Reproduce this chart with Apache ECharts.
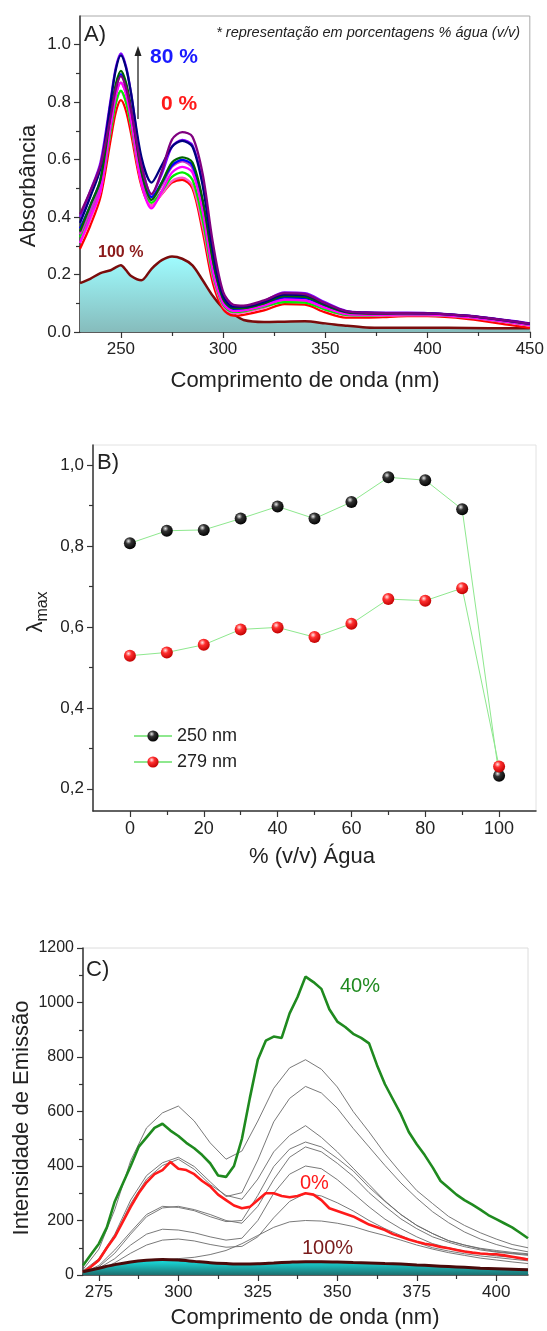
<!DOCTYPE html>
<html><head><meta charset="utf-8">
<script src="https://cdn.jsdelivr.net/npm/echarts@6/dist/echarts.min.js"></script>
<style>html,body{margin:0;padding:0;background:#fff}#c{width:547px;height:1331px}</style>
</head><body><div id="c"></div>
<script>
// ---------- Panel A : absorption spectra ----------
const wlA = [230,235,240,245,247.5,250,252.5,255,260,265,270,275,280,285,290,295,300,305,310,320,330,340,350,360,370,380,390,400,420,440,450];
const abs0  = [0.29,0.37,0.47,0.67,0.765,0.807,0.77,0.69,0.51,0.44,0.48,0.52,0.53,0.50,0.35,0.17,0.08,0.057,0.06,0.075,0.097,0.095,0.068,0.05,0.05,0.052,0.055,0.055,0.045,0.025,0.014];
const abs10 = [0.31,0.39,0.49,0.70,0.795,0.838,0.80,0.715,0.52,0.44,0.48,0.525,0.537,0.51,0.37,0.19,0.09,0.065,0.068,0.085,0.108,0.106,0.078,0.058,0.056,0.057,0.058,0.058,0.05,0.032,0.022];
const abs20 = [0.33,0.41,0.50,0.70,0.796,0.840,0.80,0.72,0.53,0.45,0.49,0.54,0.556,0.53,0.39,0.20,0.095,0.07,0.072,0.088,0.104,0.102,0.078,0.06,0.058,0.059,0.06,0.06,0.052,0.034,0.024];
const abs30 = [0.34,0.42,0.51,0.72,0.823,0.868,0.83,0.74,0.54,0.46,0.51,0.575,0.594,0.57,0.43,0.22,0.10,0.075,0.077,0.093,0.113,0.11,0.085,0.064,0.061,0.061,0.062,0.062,0.053,0.035,0.025];
const abs40 = [0.36,0.44,0.53,0.75,0.85,0.898,0.857,0.77,0.56,0.47,0.52,0.58,0.599,0.58,0.45,0.24,0.11,0.08,0.08,0.096,0.12,0.118,0.09,0.067,0.063,0.063,0.064,0.064,0.055,0.037,0.027];
const abs50 = [0.31,0.40,0.49,0.72,0.823,0.868,0.83,0.74,0.52,0.43,0.49,0.555,0.575,0.555,0.42,0.21,0.10,0.073,0.075,0.092,0.113,0.11,0.084,0.063,0.06,0.06,0.061,0.061,0.052,0.034,0.024];
const abs60 = [0.35,0.44,0.53,0.76,0.862,0.909,0.868,0.78,0.56,0.46,0.52,0.59,0.608,0.59,0.46,0.25,0.115,0.083,0.083,0.1,0.125,0.122,0.093,0.069,0.064,0.064,0.065,0.065,0.056,0.038,0.028];
const abs70 = [0.40,0.49,0.59,0.81,0.92,0.970,0.925,0.83,0.59,0.48,0.55,0.645,0.669,0.65,0.52,0.29,0.13,0.09,0.09,0.108,0.138,0.135,0.103,0.074,0.068,0.067,0.067,0.066,0.057,0.04,0.03];
const abs80 = [0.38,0.47,0.57,0.80,0.913,0.963,0.92,0.83,0.61,0.52,0.58,0.645,0.665,0.645,0.51,0.28,0.125,0.088,0.088,0.105,0.13,0.128,0.098,0.072,0.067,0.066,0.066,0.065,0.056,0.039,0.029];
const abs90 = [0.41,0.49,0.58,0.75,0.845,0.891,0.85,0.77,0.58,0.48,0.56,0.67,0.696,0.68,0.55,0.31,0.14,0.095,0.092,0.11,0.135,0.132,0.1,0.073,0.067,0.066,0.066,0.065,0.056,0.039,0.029];
const abs100= [0.17,0.185,0.205,0.215,0.225,0.232,0.215,0.195,0.18,0.22,0.25,0.263,0.255,0.232,0.18,0.125,0.083,0.062,0.042,0.035,0.036,0.037,0.03,0.022,0.016,0.015,0.015,0.015,0.014,0.013,0.013];
const absColors = ['#ff0000','#ff55cc','#00ee00','#cc33cc','#0000ff','#ff00ff','#006400','#8000ff','#000080','#800080'];
const absSets = [abs0,abs10,abs20,abs30,abs40,abs50,abs60,abs70,abs80,abs90];
const ticksAx = [250,300,350,400,450];
const ticksAy = [0,0.2,0.4,0.6,0.8,1.0];

// ---------- Panel B : lambda max ----------
const pctB = [0,10,20,30,40,50,60,70,80,90,100];
const lam250 = [0.807,0.838,0.840,0.868,0.898,0.868,0.909,0.970,0.963,0.891,0.232];
const lam279 = [0.529,0.537,0.556,0.594,0.599,0.575,0.608,0.669,0.665,0.696,0.255];
const ticksBx = [0,20,40,60,80,100];
const ticksBy = [0.2,0.4,0.6,0.8,1.0];

// ---------- Panel C : emission ----------
const wlC5 = [270,275,280,285,290,295,300,305,310,315,320,325,330,335,340,345,350,355,360,365,370,375,380,385,390,395,400,405,410];
const wlC25 = [270,272.5,275,277.5,280,282.5,285,287.5,290,292.5,295,297.5,300,302.5,305,307.5,310,312.5,315,317.5,320,322.5,325,327.5,330,332.5,335,337.5,340,342.5,345,347.5,350,352.5,355,357.5,360,362.5,365,367.5,370,372.5,375,377.5,380,382.5,385,387.5,390,392.5,395,397.5,400,402.5,405,407.5,410];
const emi40 = [35,75,115,175,270,335,400,470,505,540,555,530,510,485,465,440,410,365,360,400,500,650,790,860,875,870,960,1020,1095,1075,1050,975,930,910,885,870,850,770,700,645,590,525,480,440,395,345,320,295,275,258,240,220,205,190,175,155,135];
const emi0 = [10,30,55,100,140,195,250,300,340,370,385,415,390,385,370,345,325,295,275,255,245,250,275,300,300,290,285,290,300,295,275,245,235,225,215,200,185,175,165,150,140,130,122,115,110,103,98,92,86,82,79,77,76,72,67,62,57];
const emi100 = [12,25,38,48,54,57,55,50,45,42,40,41,44,47,49,49,48,46,44,42,40,37,34,31,28,25,23,21,19];
const gray1 = [20,95,240,420,540,595,620,565,485,425,455,565,685,760,790,755,690,600,525,445,375,310,262,215,182,155,132,112,100];
const gray2 = [15,60,150,275,365,412,432,398,342,288,302,422,562,648,692,668,612,538,470,402,338,282,232,192,158,132,112,96,85];
const gray3 = [10,50,140,262,352,402,425,388,332,292,278,352,452,512,548,505,452,392,332,272,222,182,152,126,110,96,86,80,75];
const gray4 = [8,35,92,158,222,252,248,236,214,196,200,292,398,462,488,470,428,382,322,270,222,182,152,126,110,98,90,83,78];
const gray5 = [6,30,80,150,214,246,252,240,222,200,190,252,350,432,470,452,410,362,302,252,206,170,140,120,104,92,84,78,72];
const gray6 = [5,25,60,110,150,168,165,155,140,128,135,200,300,370,400,390,350,300,250,205,170,140,115,100,88,78,70,65,60];
const gray7 = [4,18,45,80,110,128,132,125,112,102,105,140,210,270,300,290,265,235,200,170,145,120,100,88,78,70,64,58,52];
const gray8 = [2,8,20,35,48,55,60,65,75,90,115,145,175,195,200,198,190,178,160,145,128,110,95,82,72,62,55,48,42];
const grays = [gray1,gray2,gray3,gray4,gray5,gray6,gray7,gray8];
const ticksCx = [275,300,325,350,375,400];
const ticksCy = [0,200,400,600,800,1000,1200];

const FF = '"Liberation Sans", Arial, sans-serif';
const pairs = (xs, ys) => xs.map((x,i)=>[x, ys[i]]);
const AX = '#333';

function mainAxis(grid, min, max, ticks, fmt, fs, pos) {
  return {type:'value', gridIndex:grid, min:min, max:max, position:pos,
    axisLine:{show:true, onZero:false, lineStyle:{color:AX, width:1.5}},
    axisTick:{show:true, inside:false, length:6, customValues:ticks, lineStyle:{color:AX, width:1.2}},
    axisLabel:{show:true, customValues:ticks, formatter:fmt, fontSize:fs, fontFamily:FF, color:'#222', margin:9},
    splitLine:{show:false}};
}
function minorAxis(grid, min, max, ticks, pos) {
  return {type:'value', gridIndex:grid, min:min, max:max, position:pos,
    axisLine:{show:false, onZero:false},
    axisTick:{show:true, inside:false, length:4, customValues:ticks, lineStyle:{color:AX, width:1.2}},
    axisLabel:{show:false}, splitLine:{show:false}};
}
const fmtDot = v => v.toFixed(1);
const fmtComma = v => v.toFixed(1).replace('.', ',');
const fmtInt = v => String(v);

const series = [];
// Panel A
series.push({type:'line', xAxisIndex:0, yAxisIndex:0, data:pairs(wlA, abs100), smooth:0.3, showSymbol:false,
  lineStyle:{color:'#7a0c0c', width:2.5},
  areaStyle:{color:{type:'linear',x:0,y:0,x2:0,y2:1,colorStops:[{offset:0,color:'#9ffcff'},{offset:1,color:'#86bcbc'}]}, opacity:1}, z:2});
absSets.forEach((d,i)=>series.push({type:'line', xAxisIndex:0, yAxisIndex:0, data:pairs(wlA,d), smooth:0.3, showSymbol:false,
  lineStyle:{color:absColors[i], width:2.3}, z:3}));

// Panel B
function sphere(c0,c1,c2){return {type:'radial',x:0.38,y:0.32,r:0.7,colorStops:[{offset:0,color:c0},{offset:0.35,color:c1},{offset:1,color:c2}]};}
series.push({name:'250 nm', type:'line', xAxisIndex:2, yAxisIndex:2, data:pairs(pctB, lam250), symbol:'circle', symbolSize:12,
  lineStyle:{color:'#8ee88e', width:1}, itemStyle:{color:sphere('#e8e8e8','#333','#000')}, z:4});
series.push({name:'279 nm', type:'line', xAxisIndex:2, yAxisIndex:2, data:pairs(pctB, lam279), symbol:'circle', symbolSize:12,
  lineStyle:{color:'#8ee88e', width:1}, itemStyle:{color:sphere('#ffe8e8','#ff3030','#c00000')}, z:4});

// Panel C
series.push({type:'line', xAxisIndex:4, yAxisIndex:4, data:pairs(wlC5, emi100), smooth:0.3, showSymbol:false,
  lineStyle:{color:'#4a0a0a', width:3},
  areaStyle:{color:{type:'linear',x:0,y:0,x2:0,y2:1,colorStops:[{offset:0,color:'#18e6e6'},{offset:1,color:'#1d6f6f'}]}, opacity:1}, z:5});
grays.forEach(d=>series.push({type:'line', xAxisIndex:4, yAxisIndex:4, data:pairs(wlC5,d), showSymbol:false,
  lineStyle:{color:'#6a6a6a', width:0.9}, z:3}));
series.push({type:'line', xAxisIndex:4, yAxisIndex:4, data:pairs(wlC25, emi0), showSymbol:false,
  lineStyle:{color:'#ff1a1a', width:2.6}, z:4});
series.push({type:'line', xAxisIndex:4, yAxisIndex:4, data:pairs(wlC25, emi40), showSymbol:false,
  lineStyle:{color:'#1f8a1f', width:2.6}, z:4});

const T = (x,y,text,o) => Object.assign({type:'text', x:x, y:y, z:100, style:Object.assign({text:text, fill:'#222', fontFamily:FF, fontSize:22, align:'center', verticalAlign:'middle'}, o||{})});
const graphics = [
  // Panel A
  T(84,35,'A)',{align:'left'}),
  T(520,33,'* representação em porcentagens % água (v/v)',{align:'right', fontSize:14.5, fontStyle:'italic'}),
  T(150,57,'80 %',{align:'left', fill:'#1a1aff', fontWeight:'bold', fontSize:21}),
  T(161,104,'0 %',{align:'left', fill:'#ff1a1a', fontWeight:'bold', fontSize:21}),
  T(98,253,'100 %',{align:'left', fill:'#8b1a1a', fontWeight:'bold', fontSize:16}),
  {type:'line', z:100, shape:{x1:138,y1:119,x2:138,y2:52}, style:{stroke:'#222', lineWidth:1.3}},
  {type:'polygon', z:100, shape:{points:[[134.5,56],[141.5,56],[138,46]]}, style:{fill:'#222'}},
  Object.assign(T(29,186,'Absorbância'),{rotation:Math.PI/2}),
  T(305,381,'Comprimento de onda (nm)'),
  // Panel B
  T(97,463,'B)',{align:'left'}),
  Object.assign(T(36,612,'{l|λ}{s|max}',{rich:{l:{fontSize:22,fontFamily:FF,fill:'#222',lineHeight:30},s:{fontSize:16,fontFamily:FF,fill:'#222',lineHeight:14,verticalAlign:'bottom'}}}),{rotation:Math.PI/2}),
  T(312,857,'% (v/v) Água'),
  // Panel C
  T(86,970,'C)',{align:'left'}),
  T(340,986,'40%',{align:'left', fill:'#1f8a1f', fontSize:20}),
  T(300,1183,'0%',{align:'left', fill:'#ff1a1a', fontSize:20}),
  T(302,1248,'100%',{align:'left', fill:'#7a1a1a', fontSize:20}),
  Object.assign(T(22,1118,'Intensidade de Emissão'),{rotation:Math.PI/2}),
  T(305,1318,'Comprimento de onda (nm)')
];

const option = {
  animation:false,
  backgroundColor:'#fff',
  grid:[
    {left:80, top:16, width:451, height:316, show:true, borderColor:'#aaa', borderWidth:1},
    {left:93, top:445, width:443, height:366, show:true, borderColor:'#e2e2e2', borderWidth:1},
    {left:83, top:948, width:445, height:327, show:true, borderColor:'#dcdcdc', borderWidth:1}
  ],
  xAxis:[
    mainAxis(0,230,450,ticksAx,fmtInt,17,'bottom'),
    minorAxis(0,230,450,[275,325,375,425],'bottom'),
    mainAxis(1,-10,110,ticksBx,fmtInt,18,'bottom'),
    minorAxis(1,-10,110,[10,30,50,70,90],'bottom'),
    mainAxis(2,270,410,ticksCx,fmtInt,17,'bottom'),
    minorAxis(2,270,410,[287.5,312.5,337.5,362.5,387.5],'bottom')
  ],
  yAxis:[
    mainAxis(0,0,1.1,ticksAy,fmtDot,17,'left'),
    minorAxis(0,0,1.1,[0.1,0.3,0.5,0.7,0.9],'left'),
    mainAxis(1,0.145,1.05,ticksBy,fmtComma,17,'left'),
    minorAxis(1,0.145,1.05,[0.3,0.5,0.7,0.9],'left'),
    mainAxis(2,0,1200,ticksCy,fmtInt,16,'left'),
    minorAxis(2,0,1200,[100,300,500,700,900,1100],'left')
  ],
  legend:{data:['250 nm','279 nm'], left:128, top:722, orient:'vertical', itemWidth:38, itemHeight:14, itemGap:8,
    textStyle:{fontSize:18, fontFamily:FF, color:'#222'}},
  series:series,
  graphic:graphics
};
const chart = echarts.init(document.getElementById('c'), null, {renderer:'canvas'});
chart.setOption(option);
</script></body></html>
